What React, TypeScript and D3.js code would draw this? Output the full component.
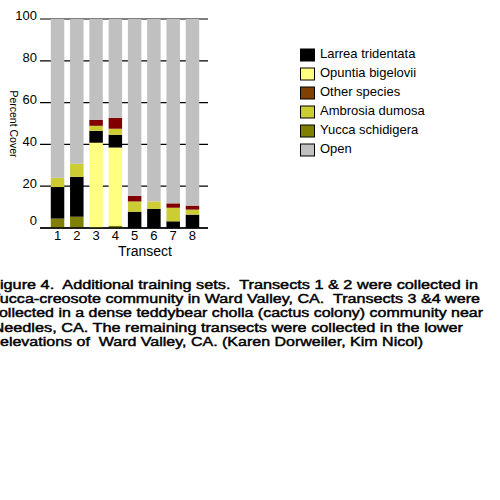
import * as d3 from "d3";

const transects = ["1", "2", "3", "4", "5", "6", "7", "8"];
const yucca = [4.5, 5.4, 0, 1.1, 0, 0, 0, 0];
const opuntia = [0, 0, 40.8, 37.4, 0, 0, 0, 0];
const larrea = [15.1, 19.1, 5.7, 6.1, 7.8, 9.2, 3.2, 6.4];
const ambrosia = [4.4, 6.2, 2.4, 2.9, 4.9, 3.5, 6.5, 2.4];
const other = [0, 0, 2.9, 5.2, 2.7, 0, 2.1, 1.9];
const yTicks = [0, 20, 40, 60, 80, 100];

const legendItems = [
  { name: "Larrea tridentata", color: "#000000" },
  { name: "Opuntia bigelovii", color: "#ffff80" },
  { name: "Other species", color: "#804000" },
  { name: "Ambrosia dumosa", color: "#cccc33" },
  { name: "Yucca schidigera", color: "#808000" },
  { name: "Open", color: "#c0c0c0" },
];

const caption = [
  "Figure 4.  Additional training sets.  Transects 1 & 2 were collected in",
  "Yucca-creosote community in Ward Valley, CA.  Transects 3 &4 were",
  "collected in a dense teddybear cholla (cactus colony) community near",
  "Needles, CA. The remaining transects were collected in the lower",
  "elevations of  Ward Valley, CA. (Karen Dorweiler, Kim Nicol)",
];
// where each caption line starts and ends in the picture
const captionStarts = [-10, -10, -9, -7.5, 0];
const captionEnds = [478, 480, 483, 463, 423];

const keys = ["yucca", "opuntia", "larrea", "ambrosia", "other", "open"];
const colors: Record<string, string> = {
  yucca: "#808000",
  opuntia: "#ffff80",
  larrea: "#000000",
  ambrosia: "#cccc33",
  other: "#800000",
  open: "#c0c0c0",
};

const rows = transects.map((t, i) => {
  const used = yucca[i] + opuntia[i] + larrea[i] + ambrosia[i] + other[i];
  return {
    t,
    yucca: yucca[i],
    opuntia: opuntia[i],
    larrea: larrea[i],
    ambrosia: ambrosia[i],
    other: other[i],
    open: 100 - used,
  };
});

const font = "'Liberation Sans', Arial, sans-serif";

export default function App() {
  const x = d3.scaleBand().domain(transects).range([45, 205]).padding(0.3);
  const y = d3.scaleLinear().domain([0, 100]).range([228, 19]);
  const series = d3.stack<any>().keys(keys)(rows);
  const legendY = d3.scalePoint().domain(legendItems.map((d) => d.name)).range([55, 150]);

  return (
    <svg
      width={500}
      height={500}
      style={{ position: "absolute", left: 0, top: 0, background: "#fff" }}
      fontFamily={font}
    >
      {/* gridlines behind bars */}
      {yTicks.map((v) => (
        <line key={v} x1={40} x2={208} y1={y(v)} y2={y(v)} stroke="#000" strokeWidth={1.2} />
      ))}
      {series.map((s) => (
        <g key={s.key} fill={colors[s.key]}>
          {s.map((d, i) => (
            <rect
              key={i}
              x={x(transects[i])}
              width={x.bandwidth()}
              y={y(d[1])}
              height={Math.max(0, y(d[0]) - y(d[1]))}
            />
          ))}
        </g>
      ))}
      <line x1={40} x2={208} y1={y(0)} y2={y(0)} stroke="#000" strokeWidth={1.5} />
      {yTicks.map((v) => (
        <text
          key={v}
          x={37}
          y={y(v) - (v === 0 ? 6 : 2)}
          textAnchor="end"
          dominantBaseline="middle"
          fontSize={13}
        >
          {v}
        </text>
      ))}
      {transects.map((t) => (
        <text
          key={t}
          x={(x(t) as number) + x.bandwidth() / 2}
          y={237}
          textAnchor="middle"
          dominantBaseline="middle"
          fontSize={13}
        >
          {t}
        </text>
      ))}
      <text x={145} y={252} textAnchor="middle" dominantBaseline="middle" fontSize={14}>
        Transect
      </text>
      <text
        transform="translate(13,124) rotate(90)"
        textAnchor="middle"
        dominantBaseline="middle"
        fontSize={10.5}
      >
        Percent Cover
      </text>
      {legendItems.map((d) => (
        <g key={d.name} transform={`translate(300,${legendY(d.name)})`}>
          <rect x={0.5} y={-6} width={14} height={12} fill={d.color} stroke="#000" strokeWidth={1} />
          <text x={20} y={0} dominantBaseline="middle" fontSize={13}>
            {d.name}
          </text>
        </g>
      ))}
      {caption.map((line, i) => (
        <text
          key={i}
          x={captionStarts[i]}
          y={289 + i * 14.2}
          fontSize={13}
          stroke="#000"
          strokeWidth={0.45}
          style={{ whiteSpace: "pre" }}
          textLength={captionEnds[i] - captionStarts[i]}
          lengthAdjust="spacingAndGlyphs"
        >
          {line}
        </text>
      ))}
    </svg>
  );
}
